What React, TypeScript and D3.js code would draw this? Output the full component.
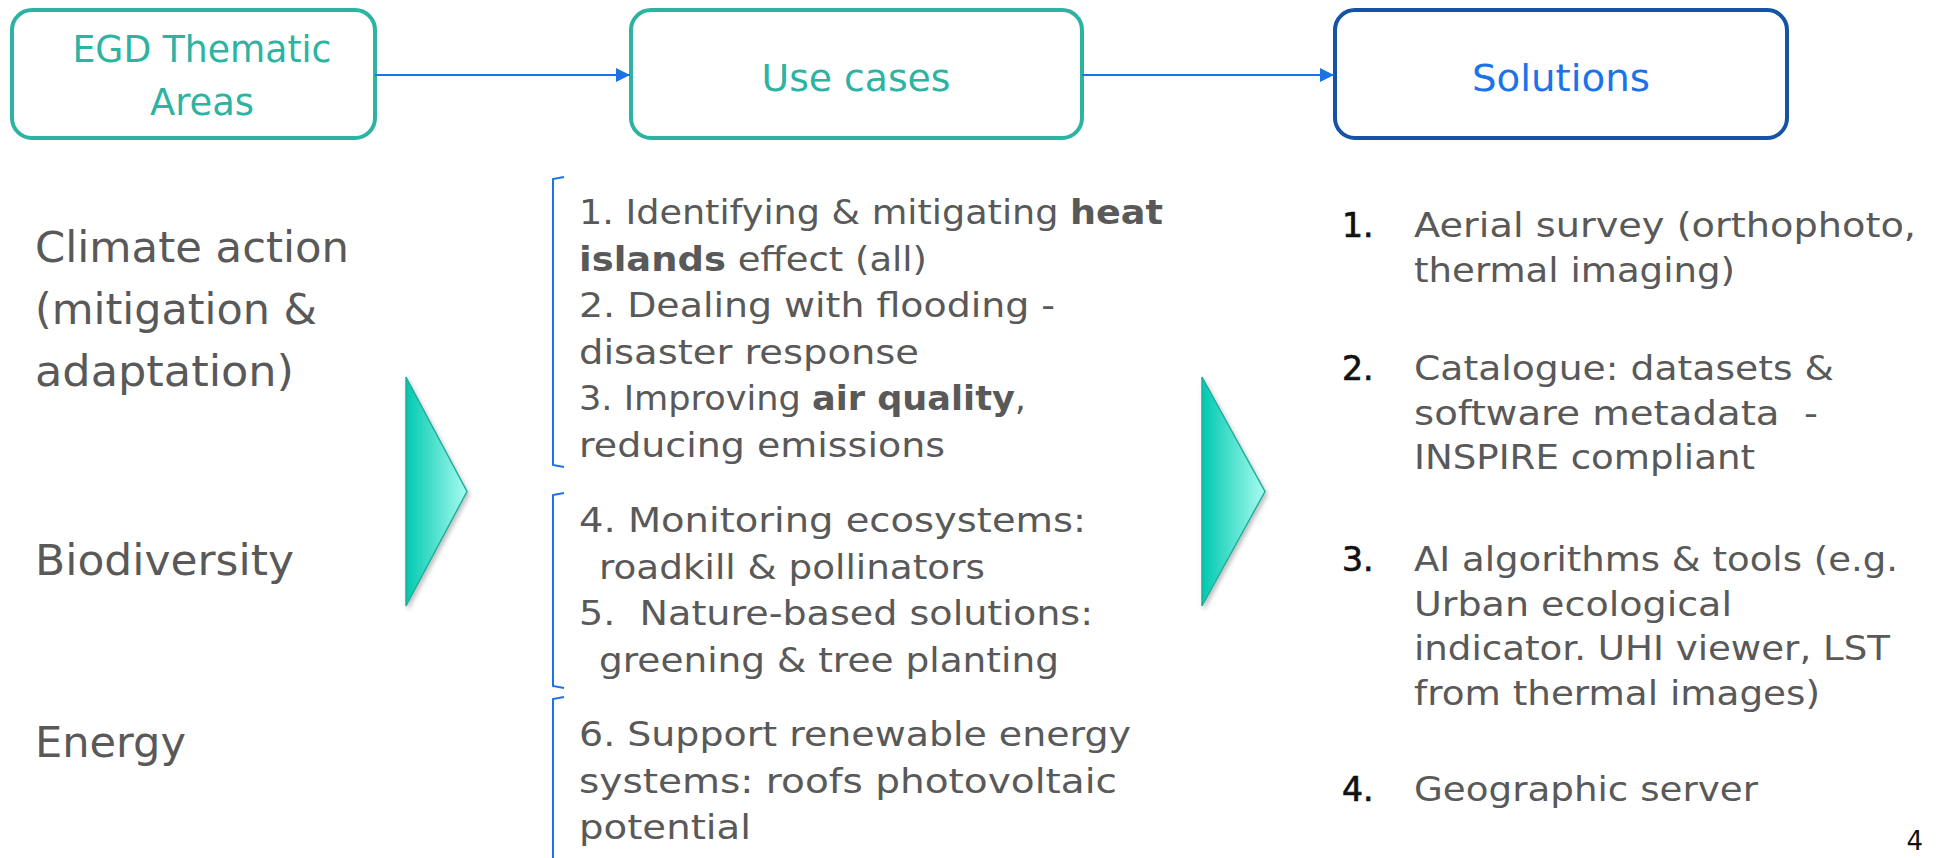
import React from "react";
import * as d3 from "d3";

// ---- content ----
const boxTitles = [["EGD Thematic", "Areas"], ["Use cases"], ["Solutions"]];

const thematicAreas = [
  ["Climate action", "(mitigation &", "adaptation)"],
  ["Biodiversity"],
  ["Energy"],
];

// **word** = bold
const useCaseGroups = [
  [
    "1. Identifying & mitigating **heat**",
    "**islands** effect (all)",
    "2. Dealing with flooding -",
    "disaster response",
    "3. Improving **air quality**,",
    "reducing emissions",
  ],
  [
    "4. Monitoring ecosystems:",
    "  roadkill & pollinators",
    "5.  Nature-based solutions:",
    "  greening & tree planting",
  ],
  ["6. Support renewable energy", "systems: roofs photovoltaic", "potential"],
];

const solutionNumbers = ["1.", "2.", "3.", "4."];
const solutions = [
  ["Aerial survey (orthophoto,", "thermal imaging)"],
  ["Catalogue: datasets &", "software metadata  -", "INSPIRE compliant"],
  [
    "AI algorithms & tools (e.g.",
    "Urban ecological",
    "indicator. UHI viewer, LST",
    "from thermal images)",
  ],
  ["Geographic server"],
];

const pageNumber = "4";

// ---- layout ----
const W = 1939;
const H = 858;
const FONT = "'DejaVu Sans', sans-serif";
const GREY = "#595959";
const TEAL = "#2db3a1";
const BLUE = "#1a73e8";
const NAVY = "#1553a5";

const boxes = [
  { x: 12, w: 363, stroke: TEAL, color: TEAL, cx: 202, base: [62, 115], tw: [259, 104] },
  { x: 631, w: 451, stroke: TEAL, color: TEAL, cx: 856, base: [91], tw: [189] },
  { x: 1335, w: 452, stroke: NAVY, color: BLUE, cx: 1561, base: [91], tw: [178] },
];
const boxY = 10;
const boxH = 128;
const arrowY = 75;

const leftX = 35;
const leftFirst = [262, 575, 757];
const leftWidths = [[314, 282, 259], [259], [151]];

const midX = 579;
const midIndent = 20;
const midFirst = [224, 532, 746];
const midWidths = [[584, 348, 476, 340, 447, 366], [507, 386, 514, 460], [552, 538, 172]];
const brackets = [[177, 467], [493, 688], [697, 880]];
const bracketX = 553;

const numX = 1342;
const solX = 1414;
const solFirst = [237, 380, 571, 801];
const solWidths = [[502, 321], [420, 404, 341], [484, 318, 476, 406], [344]];

const chevrons = [
  { x0: 406, tip: 467 },
  { x0: 1202, tip: 1265 },
];
const chevTop = 377;
const chevBottom = 606;

const leftLine = d3.scaleLinear().domain([0, 1]).range([0, 62]);
const midLine = d3.scaleLinear().domain([0, 1]).range([0, 46.6]);
const solLine = d3.scaleLinear().domain([0, 1]).range([0, 44.5]);

function richText(line: string) {
  return line.split(/(\*\*[^*]+\*\*)/).filter((s) => s.length).map((s, i) =>
    s.startsWith("**") ? (
      <tspan key={i} fontWeight={700}>{s.slice(2, -2)}</tspan>
    ) : (
      <tspan key={i}>{s}</tspan>
    )
  );
}

export default function App() {
  const chevPath = (c: { x0: number; tip: number }) => {
    const p = d3.path();
    p.moveTo(c.x0, chevTop);
    p.lineTo(c.tip, (chevTop + chevBottom) / 2);
    p.lineTo(c.x0, chevBottom);
    p.closePath();
    return p.toString();
  };

  return (
    <svg
      width={W}
      height={H}
      style={{ position: "absolute", left: 0, top: 0, display: "block", background: "#fff" }}
      fontFamily={FONT}
    >
      <defs>
        <linearGradient id="chevFill" x1="0" x2="1" y1="0" y2="0">
          <stop offset="0%" stopColor="#00c9b0" />
          <stop offset="100%" stopColor="#a8fcf0" />
        </linearGradient>
        <marker id="arrowHead" viewBox="0 0 10 10" refX="10" refY="5" markerWidth="7" markerHeight="7" orient="auto">
          <path d="M0,0 L10,5 L0,10 z" fill={BLUE} />
        </marker>
        <filter id="shadow" x="-20%" y="-10%" width="140%" height="130%">
          <feDropShadow dx="2" dy="3" stdDeviation="2" floodColor="#000" floodOpacity="0.25" />
        </filter>
      </defs>

      {/* header boxes */}
      {boxes.map((b, i) => (
        <g key={i}>
          <rect x={b.x} y={boxY} width={b.w} height={boxH} rx={20} fill="#fff" stroke={b.stroke} strokeWidth={4} />
          {boxTitles[i].map((t, j) => (
            <text
              key={j}
              x={b.cx}
              y={b.base[j]}
              textAnchor="middle"
              fontSize={38}
              fill={b.color}
              textLength={b.tw[j]}
              lengthAdjust="spacingAndGlyphs"
            >
              {t}
            </text>
          ))}
        </g>
      ))}

      {/* connectors */}
      {[0, 1].map((i) => (
        <line
          key={i}
          x1={boxes[i].x + boxes[i].w}
          x2={boxes[i + 1].x - 1}
          y1={arrowY}
          y2={arrowY}
          stroke={BLUE}
          strokeWidth={2}
          markerEnd="url(#arrowHead)"
        />
      ))}

      {/* thematic areas */}
      {thematicAreas.map((g, gi) =>
        g.map((t, li) => (
          <text
            key={`${gi}-${li}`}
            x={leftX}
            y={leftFirst[gi] + leftLine(li)}
            fontSize={42}
            fill={GREY}
            textLength={leftWidths[gi][li]}
            lengthAdjust="spacingAndGlyphs"
          >
            {t}
          </text>
        ))
      )}

      {/* chevrons */}
      {chevrons.map((c, i) => (
        <path key={i} d={chevPath(c)} fill="url(#chevFill)" stroke="#1fae9c" strokeWidth={1.5} filter="url(#shadow)" />
      ))}

      {/* brackets */}
      {brackets.map(([y0, y1], i) => (
        <path
          key={i}
          d={`M${bracketX + 11},${y0} L${bracketX},${y0 + 2} L${bracketX},${y1 - 2} L${bracketX + 11},${y1}`}
          fill="none"
          stroke={BLUE}
          strokeWidth={2}
        />
      ))}

      {/* use cases */}
      {useCaseGroups.map((g, gi) =>
        g.map((t, li) => {
          const indented = t.startsWith("  ");
          return (
            <text
              key={`${gi}-${li}`}
              x={midX + (indented ? midIndent : 0)}
              y={midFirst[gi] + midLine(li)}
              fontSize={34}
              fill={GREY}
              style={{ whiteSpace: "pre" }}
              textLength={midWidths[gi][li]}
              lengthAdjust="spacingAndGlyphs"
            >
              {richText(t.trimStart())}
            </text>
          );
        })
      )}

      {/* solutions */}
      {solutions.map((g, gi) => (
        <g key={gi}>
          <text x={numX} y={solFirst[gi]} fontSize={33} fill="#111" stroke="#111" strokeWidth={0.7}>
            {solutionNumbers[gi]}
          </text>
          {g.map((t, li) => (
            <text
              key={li}
              x={solX}
              y={solFirst[gi] + solLine(li)}
              fontSize={33}
              fill={GREY}
              style={{ whiteSpace: "pre" }}
              textLength={solWidths[gi][li]}
              lengthAdjust="spacingAndGlyphs"
            >
              {t}
            </text>
          ))}
        </g>
      ))}

      <text x={1923} y={850} textAnchor="end" fontSize={26} fill="#111">
        {pageNumber}
      </text>
    </svg>
  );
}
